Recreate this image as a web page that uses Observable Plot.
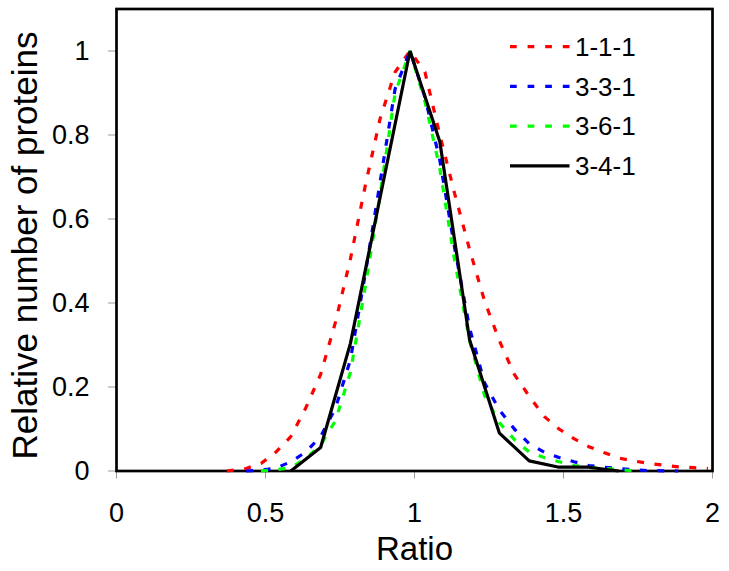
<!DOCTYPE html>
<html>
<head>
<meta charset="utf-8">
<script src="https://cdn.jsdelivr.net/npm/d3@7"></script>
<script src="https://cdn.jsdelivr.net/npm/@observablehq/plot@0.6"></script>
<style>
  html, body { margin: 0; padding: 0; background: #fff; }
  #chart { position: relative; width: 729px; height: 571px; }
</style>
</head>
<body>
<div id="chart"></div>
<script>
// ---- Data ----
const seriesNames  = ["1-1-1", "3-3-1", "3-6-1", "3-4-1"];
const seriesColors = ["#ff0000", "#0000ff", "#00ff00", "#000000"];

const ratio111 = [0.37, 0.435, 0.485, 0.535, 0.585, 0.635, 0.685, 0.735, 0.785, 0.835, 0.885, 0.935, 0.985,
                  1.035, 1.085, 1.135, 1.185, 1.235, 1.285, 1.335, 1.385, 1.435, 1.485, 1.535, 1.585,
                  1.635, 1.685, 1.735, 1.785, 1.835, 1.885, 1.935, 1.985];
const value111 = [0.0, 0.006, 0.018, 0.045, 0.082, 0.15, 0.23, 0.355, 0.505, 0.68, 0.84, 0.95, 1.0,
                  0.95, 0.80, 0.66, 0.527, 0.405, 0.31, 0.23, 0.178, 0.13, 0.10, 0.077, 0.058,
                  0.044, 0.031, 0.024, 0.018, 0.014, 0.010, 0.008, 0.006];

const ratio331 = [0.435, 0.485, 0.535, 0.585, 0.635, 0.685, 0.735, 0.785, 0.835, 0.885, 0.935, 0.985,
                  1.035, 1.085, 1.135, 1.185, 1.235, 1.285, 1.335, 1.385, 1.435, 1.485, 1.535, 1.585,
                  1.635, 1.685, 1.735, 1.785, 1.885];
const value331 = [0.0, 0.002, 0.007, 0.022, 0.045, 0.082, 0.15, 0.265, 0.47, 0.69, 0.91, 1.0,
                  0.89, 0.74, 0.53, 0.34, 0.21, 0.145, 0.10, 0.065, 0.045, 0.032, 0.022, 0.013,
                  0.009, 0.006, 0.003, 0.001, 0.0];

const ratio361 = [0.485, 0.535, 0.585, 0.635, 0.685, 0.735, 0.785, 0.835, 0.885, 0.935, 0.985,
                  1.035, 1.085, 1.135, 1.185, 1.235, 1.285, 1.335, 1.385, 1.435, 1.485, 1.535, 1.585,
                  1.635, 1.685, 1.735];
const value361 = [0.0, 0.003, 0.008, 0.03, 0.062, 0.12, 0.235, 0.44, 0.66, 0.90, 1.0,
                  0.88, 0.72, 0.50, 0.31, 0.18, 0.115, 0.075, 0.045, 0.032, 0.022, 0.013, 0.009,
                  0.006, 0.004, 0.0];

const ratio341 = [0.585, 0.685, 0.785, 0.885, 0.985, 1.085, 1.185, 1.285, 1.385, 1.485, 1.585, 1.685];
const value341 = [0.0, 0.056, 0.304, 0.653, 1.0, 0.784, 0.312, 0.09, 0.024, 0.009, 0.009, 0.0];

const xTicks = [0, 0.5, 1, 1.5, 2];
const yTicks = [0, 0.2, 0.4, 0.6, 0.8, 1];
const xLabel = "Ratio";
const yLabel = "Relative number of proteins";

// ---- Build table ----
const seriesX = [ratio111, ratio331, ratio361, ratio341];
const seriesY = [value111, value331, value361, value341];
const rows = [];
seriesNames.forEach((name, i) => {
  seriesX[i].forEach((x, j) => rows.push({series: name, ratio: x, value: seriesY[i][j]}));
});

const dashStyles = ["7,10.5", "7,10.5", "7,10.5", null];
const font = "'Liberation Sans', Arial, Helvetica, sans-serif";
const fmt = d => String(d);

const lineMarks = seriesNames.map((name, i) =>
  Plot.line(rows.filter(d => d.series === name), {
    x: "ratio", y: "value",
    stroke: seriesColors[i],
    strokeWidth: 3.2,
    strokeDasharray: dashStyles[i] || undefined,
    strokeLinejoin: "miter",
    strokeLinecap: "butt"
  })
);

const plot = Plot.plot({
  width: 729,
  height: 571,
  marginLeft: 116,
  marginRight: 17,
  marginTop: 8.5,
  marginBottom: 100.5,
  style: {fontFamily: font, background: "#fff", color: "#000", overflow: "visible"},
  x: {domain: [0, 2]},
  y: {domain: [0, 1.1]},
  marks: [
    Plot.axisX(xTicks, {tickSize: 8, tickPadding: 23.5, stroke: "#9a9a9a", fill: "#000", fontSize: 27, tickFormat: fmt, label: null}),
    Plot.axisY(yTicks, {tickSize: 8, tickPadding: 19, stroke: "#9a9a9a", fill: "#000", fontSize: 27, tickFormat: fmt, label: null}),
    Plot.frame({stroke: "#000", strokeWidth: 2.7}),
    ...lineMarks,
    Plot.text([xLabel], {frameAnchor: "bottom", dy: 78.9, fontSize: 33, fill: "#000", lineAnchor: "middle", textAnchor: "middle", text: d => d}),
    Plot.text([yLabel], {frameAnchor: "left", dx: -91.2, dy: 5.5, rotate: -90, fontSize: 35, fill: "#000", lineAnchor: "middle", textAnchor: "middle", text: d => d})
  ]
});

// ---- Legend (inside the frame, top-right) ----
const svg = d3.select(plot);
const lg = svg.append("g").attr("font-family", font).attr("font-size", 26).attr("text-anchor", "start");
const legendTop = 46.7, legendStep = 39.7;
seriesNames.forEach((name, i) => {
  const yy = legendTop + i * legendStep;
  lg.append("line")
    .attr("x1", 510).attr("x2", 569.5).attr("y1", yy).attr("y2", yy)
    .attr("stroke", seriesColors[i]).attr("stroke-width", 3.3)
    .attr("stroke-dasharray", dashStyles[i] ? "6.7,10.9" : null);
  lg.append("text")
    .attr("x", 575).attr("y", yy).attr("dy", "0.35em")
    .attr("fill", "#000")
    .attr("text-anchor", "start")
    .text(name);
});

document.getElementById("chart").appendChild(plot);
</script>
</body>
</html>
